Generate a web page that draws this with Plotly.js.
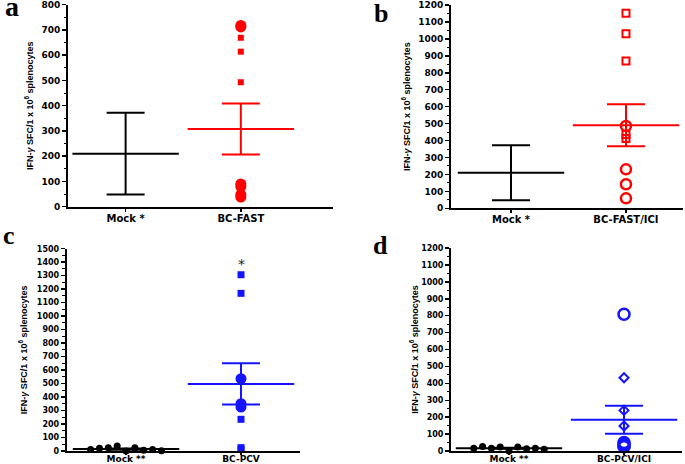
<!DOCTYPE html>
<html><head><meta charset="utf-8">
<script src="https://cdn.plot.ly/plotly-3.0.1.min.js"></script>
<style>html,body{margin:0;padding:0;background:#fff}#chart{width:685px;height:464px}</style>
</head><body><div id="chart"></div>
<script>
// ---------- data ----------
const catsA = ['Mock *', 'BC-FAST'];
const catsB = ['Mock *', 'BC-FAST/ICI'];
const catsC = ['Mock **', 'BC-PCV'];
const catsD = ['Mock **', 'BC-PCV/ICI'];

// group means and SEM (Mock, vaccine)
const meansA = [210, 308];
const semsA  = [162, 101];
const meansB = [210, 490];
const semsB  = [162, 124];
const meansC = [14, 497];
const semsC  = [4, 153];
const meansD = [16, 185];
const semsD  = [3, 83];

// individual animals
const aFastCircles = [718, 712, 90, 80, 48, 38];
const aFastSquares = [669, 614, 493];
const bIciSquares  = [1151, 1031, 870, 435, 412];
const bIciCircles  = [486, 230, 142, 59];
const cMockDots    = [12, 20, 25, 37, 0, 25, 5, 12, 2];
const cPcvSquares  = [1307, 1169, 235, 25, 12];
const cPcvCircles  = [536, 351, 326];
const dMockDots    = [16, 26, 16, 24, 0, 24, 14, 16, 10];
const dIciCircles  = [808, 50, 40, 30, 25];
const dIciDiamonds = [433, 240, 148];

const yTitle = 'IFN-<i>γ</i> SFC/1 x 10<sup>6</sup> splenocytes';

// ---------- styling ----------
const RED = 'rgb(255,0,0)', BLUE = 'rgb(20,20,255)', BLACK = '#000';
const W = 685, H = 464;
const px = v => v / W, py = v => 1 - v / H;

function meanTrace(xa, ya, xi, mean, sem, color) {
  return {
    type: 'scatter', mode: 'markers', xaxis: xa, yaxis: ya,
    x: [xi], y: [mean], cliponaxis: false, hoverinfo: 'y',
    marker: {symbol: 'line-ew', size: 76, line: {width: 2, color: color}},
    error_y: {type: 'data', array: [sem], visible: true, color: color, thickness: 2, width: 19}
  };
}
function ptsTrace(xa, ya, xi, vals, symbol, size, color, lw, spread) {
  const n = vals.length;
  const xs = vals.map((v, i) => spread ? xi + (i - (n - 1) / 2) * spread : xi);
  return {
    type: 'scatter', mode: 'markers', xaxis: xa, yaxis: ya,
    x: xs, y: vals, cliponaxis: false,
    marker: {symbol: symbol, size: size, color: color, line: {width: lw || 0, color: color}}
  };
}

const traces = [
  // a
  meanTrace('x', 'y', 0, meansA[0], semsA[0], BLACK),
  meanTrace('x', 'y', 1, meansA[1], semsA[1], RED),
  ptsTrace('x', 'y', 1, aFastCircles, 'circle', 11, RED),
  ptsTrace('x', 'y', 1, aFastSquares, 'square', 6, RED),
  // b
  meanTrace('x2', 'y2', 0, meansB[0], semsB[0], BLACK),
  meanTrace('x2', 'y2', 1, meansB[1], semsB[1], RED),
  ptsTrace('x2', 'y2', 1, bIciSquares, 'square-open', 7, RED, 2),
  ptsTrace('x2', 'y2', 1, bIciCircles, 'circle-open', 10, RED, 2.5),
  // c
  meanTrace('x3', 'y3', 0, meansC[0], semsC[0], BLACK),
  meanTrace('x3', 'y3', 1, meansC[1], semsC[1], BLUE),
  ptsTrace('x3', 'y3', 0, cMockDots, 'circle', 7, BLACK, 0, 0.077),
  ptsTrace('x3', 'y3', 1, cPcvSquares, 'square', 7, BLUE),
  ptsTrace('x3', 'y3', 1, cPcvCircles, 'circle', 11, BLUE),
  // d
  meanTrace('x4', 'y4', 0, meansD[0], semsD[0], BLACK),
  meanTrace('x4', 'y4', 1, meansD[1], semsD[1], BLUE),
  ptsTrace('x4', 'y4', 0, dMockDots, 'circle', 7, BLACK, 0, 0.0765),
  ptsTrace('x4', 'y4', 1, dIciCircles, 'circle-open', 11, BLUE, 2.5),
  ptsTrace('x4', 'y4', 1, dIciDiamonds, 'diamond-open', 7, BLUE, 2)
];

function xAx(dom, range, labels, anchor, fs, tl, so) {
  return {
    domain: dom, range: range, anchor: anchor, tickvals: [0, 1], ticktext: labels,
    showline: true, linewidth: 2, linecolor: BLACK, ticks: 'outside', ticklen: tl,
    tickwidth: 1.5, tickcolor: BLACK, showgrid: false, zeroline: false, fixedrange: true,
    ticklabelstandoff: so,
    tickfont: {family: 'DejaVu Sans', size: fs, color: BLACK, weight: 'bold'}
  };
}
function yAx(dom, range, fs, anchor, standoff) {
  return {
    domain: dom, range: range, anchor: anchor, dtick: 100, tick0: 0,
    showline: true, linewidth: 2, linecolor: BLACK, ticks: 'outside', ticklen: 4,
    tickwidth: 1.5, tickcolor: BLACK, showgrid: false, zeroline: false, fixedrange: true,
    ticklabeloverflow: 'allow',
    minor: {dtick: 50, ticks: 'outside', ticklen: 2.5, tickwidth: 1, tickcolor: BLACK, showgrid: false},
    tickfont: {family: 'DejaVu Sans', size: fs, color: BLACK, weight: 'bold'},
    title: {text: yTitle, standoff: standoff,
            font: {family: 'Liberation Sans', size: 9, color: BLACK, weight: 'bold'}}
  };
}

const layout = {
  width: W, height: H, autosize: false, showlegend: false,
  margin: {l: 0, r: 0, t: 0, b: 0, pad: 0},
  paper_bgcolor: '#fff', plot_bgcolor: '#fff',
  xaxis:  xAx([px(68), px(333)], [-0.5, 1.8], catsA, 'y', 10, 3, -2),
  yaxis:  yAx([py(206.7), py(4.7)], [0, 800.01], 9, 'x', 6),
  xaxis2: xAx([px(451), px(683)], [-0.522, 1.496], catsB, 'y2', 10, 3, -2),
  yaxis2: yAx([py(208.3), py(5)], [0, 1200.01], 9, 'x2', 6),
  xaxis3: xAx([px(66.7), px(300)], [-0.516, 1.513], catsC, 'y3', 9, 2, -4),
  yaxis3: yAx([py(451), py(248.7)], [0, 1500.01], 8, 'x3', 8),
  xaxis4: xAx([px(451), px(682)], [-0.504, 1.504], catsD, 'y4', 9, 2, -4),
  yaxis4: yAx([py(451), py(248)], [0, 1200.01], 8, 'x4', 1),
  annotations: [
    {xref: 'paper', yref: 'paper', x: px(12.5), y: py(6), xanchor: 'center', yanchor: 'middle', showarrow: false,
     text: 'a', font: {family: 'Liberation Serif', size: 28, color: BLACK, weight: 'bold'}},
    {xref: 'paper', yref: 'paper', x: px(381), y: py(13), xanchor: 'center', yanchor: 'middle', showarrow: false,
     text: 'b', font: {family: 'Liberation Serif', size: 26, color: BLACK, weight: 'bold'}},
    {xref: 'paper', yref: 'paper', x: px(9), y: py(236), xanchor: 'center', yanchor: 'middle', showarrow: false,
     text: 'c', font: {family: 'Liberation Serif', size: 26, color: BLACK, weight: 'bold'}},
    {xref: 'paper', yref: 'paper', x: px(380), y: py(245), xanchor: 'center', yanchor: 'middle', showarrow: false,
     text: 'd', font: {family: 'Liberation Serif', size: 26, color: BLACK, weight: 'bold'}},
    {xref: 'x3', yref: 'y3', x: 1, y: 1390, showarrow: false, text: '*',
     font: {family: 'DejaVu Sans', size: 14, color: '#222'}}
  ]
};

Plotly.newPlot('chart', traces, layout, {staticPlot: true, displayModeBar: false});
</script></body></html>
